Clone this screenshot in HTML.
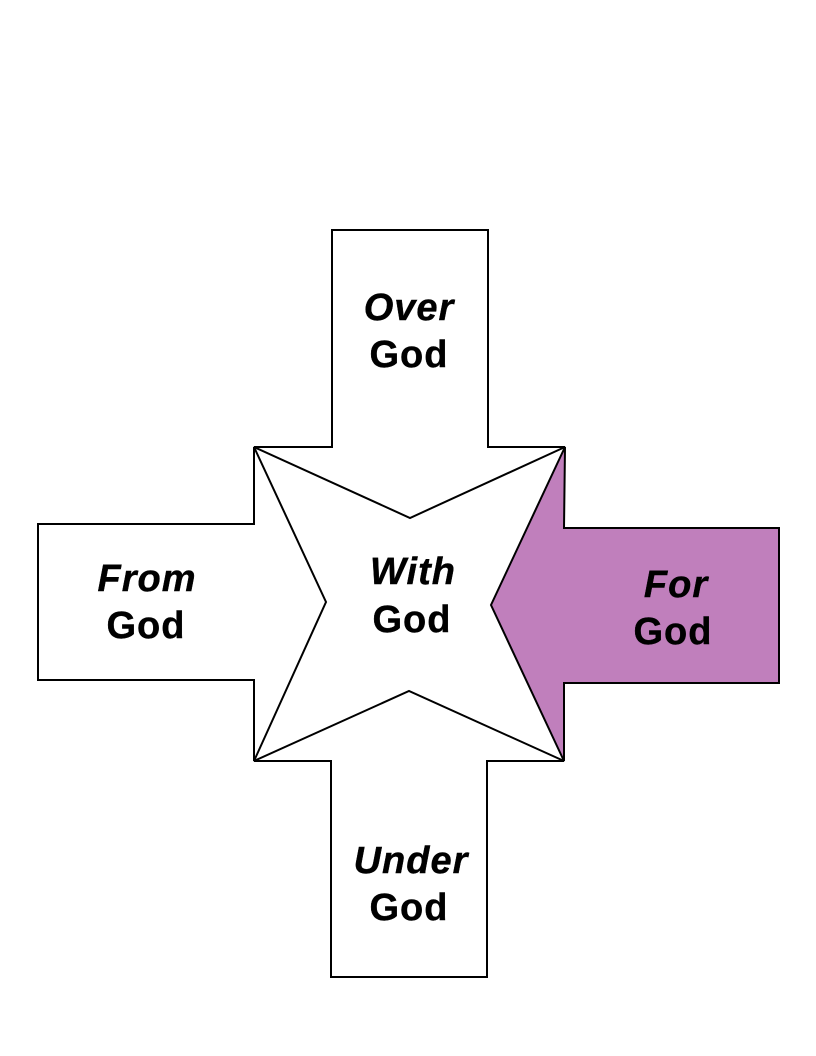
<!DOCTYPE html>
<html>
<head>
<meta charset="utf-8">
<style>
html,body{margin:0;padding:0;background:#fff;}
svg{display:block;}
text{font-family:"Liberation Sans",Arial,sans-serif;font-weight:bold;font-size:38px;fill:#000;letter-spacing:1px;stroke:#000;stroke-width:0.4px;}
.i{font-style:italic;}
</style>
</head>
<body>
<svg width="816" height="1056" viewBox="0 0 816 1056" xmlns="http://www.w3.org/2000/svg">
<rect width="816" height="1056" fill="#fff"/>
<g stroke="#000" stroke-width="2" stroke-linejoin="miter" fill="#fff">
  <!-- top arrow (Over) -->
  <polygon points="332,230 488,230 488,447 565,447 410,518 254,447 332,447"/>
  <!-- left arrow (From) -->
  <polygon points="38,524 254,524 254,447 326,602 254,761 254,680 38,680"/>
  <!-- bottom arrow (Under) -->
  <polygon points="331,977 487,977 487,761 564,761 409,691 254,761 331,761"/>
  <!-- right arrow (For) -->
  <polygon fill="#c07fbc" points="779,528 779,683 564,683 564,761 491,605 565,447 564,528"/>
</g>
<text class="i" x="409" y="320" text-anchor="middle">Over</text>
<text x="409" y="367" text-anchor="middle">God</text>
<text class="i" x="413" y="584" text-anchor="middle">With</text>
<text x="412" y="632" text-anchor="middle">God</text>
<text class="i" x="147" y="591" text-anchor="middle">From</text>
<text x="146" y="638" text-anchor="middle">God</text>
<text class="i" x="676" y="597" text-anchor="middle">For</text>
<text x="673" y="644" text-anchor="middle">God</text>
<text class="i" x="411" y="873" text-anchor="middle">Under</text>
<text x="409" y="920" text-anchor="middle">God</text>
</svg>
</body>
</html>
